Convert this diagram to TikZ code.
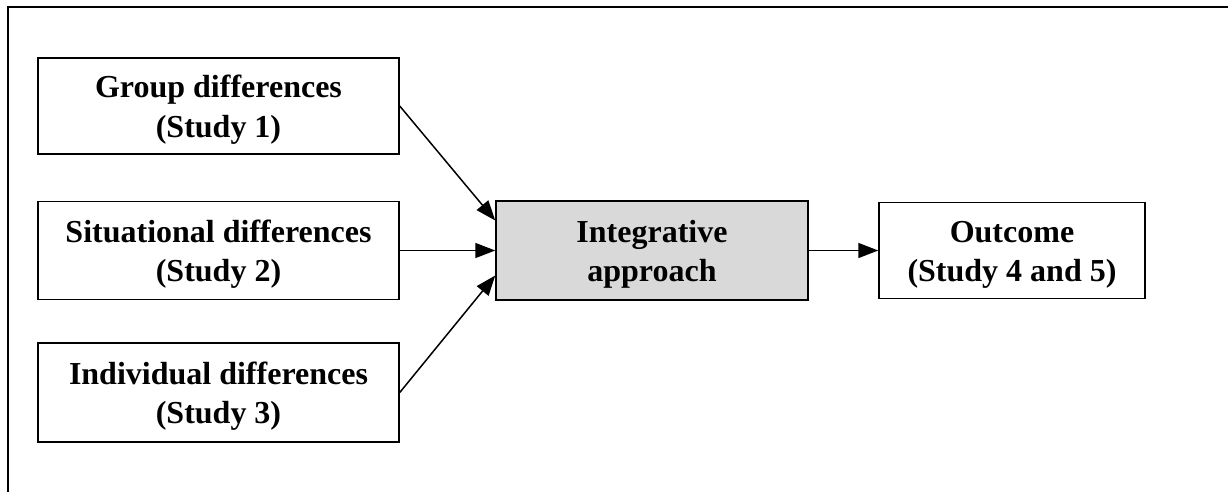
\documentclass[tikz,border=0pt]{standalone}
\usepackage{fontspec}
\setmainfont{Liberation Serif}
\usetikzlibrary{arrows.meta,calc}
\definecolor{boxgray}{HTML}{D9D9D9}
\newcommand{\tpstrut}{\rule{0pt}{30pt}}
\tikzset{
  box/.style={draw=black, line width=1.5pt, rectangle, align=center, inner sep=0pt,
    font=\fontsize{32}{39.5}\selectfont\bfseries},
  arr/.style={draw=black, line width=1.5pt, -{Triangle[length=20pt,width=15pt]}},
  frame/.style={draw=black, line width=2.6pt}
}
\begin{document}
\begin{tikzpicture}[x=1pt,y=-1pt]
\useasboundingbox (0,0) rectangle (1228,491);
\fill[white] (0,0) rectangle (1228,491);
\draw[frame] (8,495) -- (8,7) -- (1232,7);
\node[box, minimum width=361pt, minimum height=96pt] (g) at (218.5,106) {\tpstrut Group differences\\(Study 1)};
\node[box, minimum width=361pt, minimum height=98pt] (s) at (218.5,250.5) {\tpstrut Situational differences\\(Study 2)};
\node[box, minimum width=361pt, minimum height=99pt] (d) at (218.5,392.5) {\tpstrut Individual differences\\(Study 3)};
\node[box, fill=boxgray, minimum width=312pt, minimum height=99pt] (i) at (652,250.5) {\tpstrut Integrative\\approach};
\node[box, minimum width=266pt, minimum height=96pt] (o) at (1012,250.5) {\tpstrut Outcome\\(Study 4 and 5)};
\draw[arr] (g.east) -- ([yshift=30pt]i.west);
\draw[arr] (s.east) -- (i.west);
\draw[arr] (d.east) -- ([yshift=-25pt]i.west);
\draw[arr] (i.east) -- (o.west);
\end{tikzpicture}
\end{document}
